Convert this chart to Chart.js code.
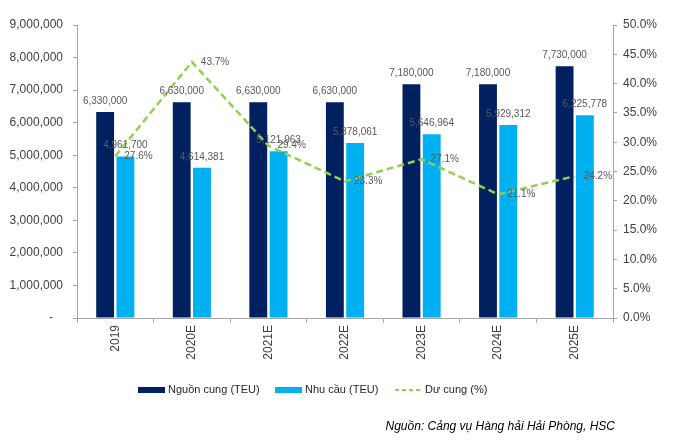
<!DOCTYPE html>
<html>
<head>
<meta charset="utf-8">
<script src="https://cdn.jsdelivr.net/npm/chart.js@4.4.1/dist/chart.umd.min.js"></script>
<style>
  html, body { margin: 0; padding: 0; background: #fff; }
  #wrap { width: 679px; height: 444px; }
</style>
</head>
<body>
<div id="wrap"><canvas id="cvs" width="679" height="444"></canvas></div>
<script>
// ---- data ----
const years = ["2019", "2020E", "2021E", "2022E", "2023E", "2024E", "2025E"];
const supply = [6330000, 6630000, 6630000, 6630000, 7180000, 7180000, 7730000];
const demand = [4961700, 4614381, 5121963, 5378061, 5646964, 5929312, 6225778];
const surplus = [27.6, 43.7, 29.4, 23.3, 27.1, 21.1, 24.2];
const seriesNames = ["Nguồn cung (TEU)", "Nhu cầu (TEU)", "Dư cung (%)"];
const sourceNote = "Nguồn: Cảng vụ Hàng hải Hải Phòng, HSC";

const NAVY = "#002060";
const SKY = "#00b0f0";
const GREEN = "#92d050";
const AXIS = "#a6a6a6";
const TXT = "#404040";

const fmt = v => v.toLocaleString("en-US");

// value labels on bars and line points
const valueLabels = {
    id: "valueLabels",
    afterDatasetsDraw(chart) {
        const ctx = chart.ctx;
        ctx.save();
        ctx.font = "10px 'Liberation Sans', Arial, sans-serif";
        ctx.fillStyle = "#595959";
        chart.data.datasets.forEach((ds, i) => {
            const meta = chart.getDatasetMeta(i);
            meta.data.forEach((el, j) => {
                if (ds.type === "line") {
                    ctx.textAlign = "left";
                    ctx.textBaseline = "middle";
                    ctx.fillText(ds.data[j].toFixed(1) + "%", el.x + 9, el.y);
                } else {
                    ctx.textAlign = "center";
                    ctx.textBaseline = "middle";
                    ctx.fillText(fmt(ds.data[j]), el.x, el.y - 11);
                }
            });
        });
        ctx.restore();
    }
};

// legend row + source note underneath
const bottomLegend = {
    id: "bottomLegend",
    afterDraw(chart) {
        const ctx = chart.ctx;
        ctx.save();
        ctx.font = "11px 'Liberation Sans', Arial, sans-serif";
        ctx.textBaseline = "middle";
        ctx.textAlign = "left";
        const y = 390;
        // Nguồn cung
        ctx.fillStyle = NAVY;
        ctx.fillRect(138, y - 3, 27, 6);
        ctx.fillStyle = "#262626";
        ctx.fillText(seriesNames[0], 168, y);
        // Nhu cầu
        ctx.fillStyle = SKY;
        ctx.fillRect(275, y - 3, 27, 6);
        ctx.fillStyle = "#262626";
        ctx.fillText(seriesNames[1], 305, y);
        // Dư cung
        ctx.strokeStyle = GREEN;
        ctx.lineWidth = 2;
        ctx.setLineDash([4, 3]);
        ctx.beginPath();
        ctx.moveTo(395, y);
        ctx.lineTo(423, y);
        ctx.stroke();
        ctx.setLineDash([]);
        ctx.fillText(seriesNames[2], 425, y);
        // source
        ctx.font = "italic 12px 'Liberation Sans', Arial, sans-serif";
        ctx.textAlign = "right";
        ctx.fillStyle = "#000";
        ctx.fillText(sourceNote, 615, 427);
        ctx.restore();
    }
};

new Chart("cvs", {
    type: "bar",
    data: {
        labels: years,
        datasets: [
            {
                label: seriesNames[0],
                data: supply,
                backgroundColor: NAVY,
                yAxisID: "y",
                order: 2,
                categoryPercentage: 0.53,
                barPercentage: 0.88
            },
            {
                label: seriesNames[1],
                data: demand,
                backgroundColor: SKY,
                yAxisID: "y",
                order: 2,
                categoryPercentage: 0.53,
                barPercentage: 0.88
            },
            {
                type: "line",
                label: seriesNames[2],
                data: surplus,
                borderColor: GREEN,
                backgroundColor: GREEN,
                borderWidth: 2.5,
                borderDash: [7, 4],
                pointRadius: 0,
                tension: 0,
                fill: false,
                yAxisID: "y1",
                order: 1
            }
        ]
    },
    options: {
        responsive: false,
        animation: false,
        devicePixelRatio: 1,
        layout: { padding: { top: 25, left: 0, right: 0, bottom: 0 } },
        plugins: {
            legend: { display: false },
            tooltip: { enabled: false }
        },
        scales: {
            x: {
                grid: { drawOnChartArea: false, color: AXIS, tickLength: 5 },
                border: { color: AXIS },
                ticks: {
                    color: TXT,
                    font: { size: 12, family: "'Liberation Sans', Arial, sans-serif" },
                    minRotation: 90,
                    maxRotation: 90,
                    padding: 2
                },
                afterFit: s => { s.height = 126; }
            },
            y: {
                position: "left",
                min: 0,
                max: 9000000,
                grid: { drawOnChartArea: false, color: AXIS, tickLength: 4 },
                border: { color: AXIS },
                ticks: {
                    stepSize: 1000000,
                    color: TXT,
                    font: { size: 12, family: "'Liberation Sans', Arial, sans-serif" },
                    padding: 10,
                    callback: v => v === 0 ? "-   " : fmt(v)
                },
                afterFit: s => { s.width = 77; }
            },
            y1: {
                position: "right",
                min: 0,
                max: 50,
                grid: { drawOnChartArea: false, color: AXIS, tickLength: 4 },
                border: { color: AXIS },
                ticks: {
                    stepSize: 5,
                    color: TXT,
                    font: { size: 12, family: "'Liberation Sans', Arial, sans-serif" },
                    padding: 6,
                    callback: v => v.toFixed(1) + "%"
                },
                afterFit: s => { s.width = 66; }
            }
        }
    },
    plugins: [valueLabels, bottomLegend]
});
</script>
</body>
</html>
